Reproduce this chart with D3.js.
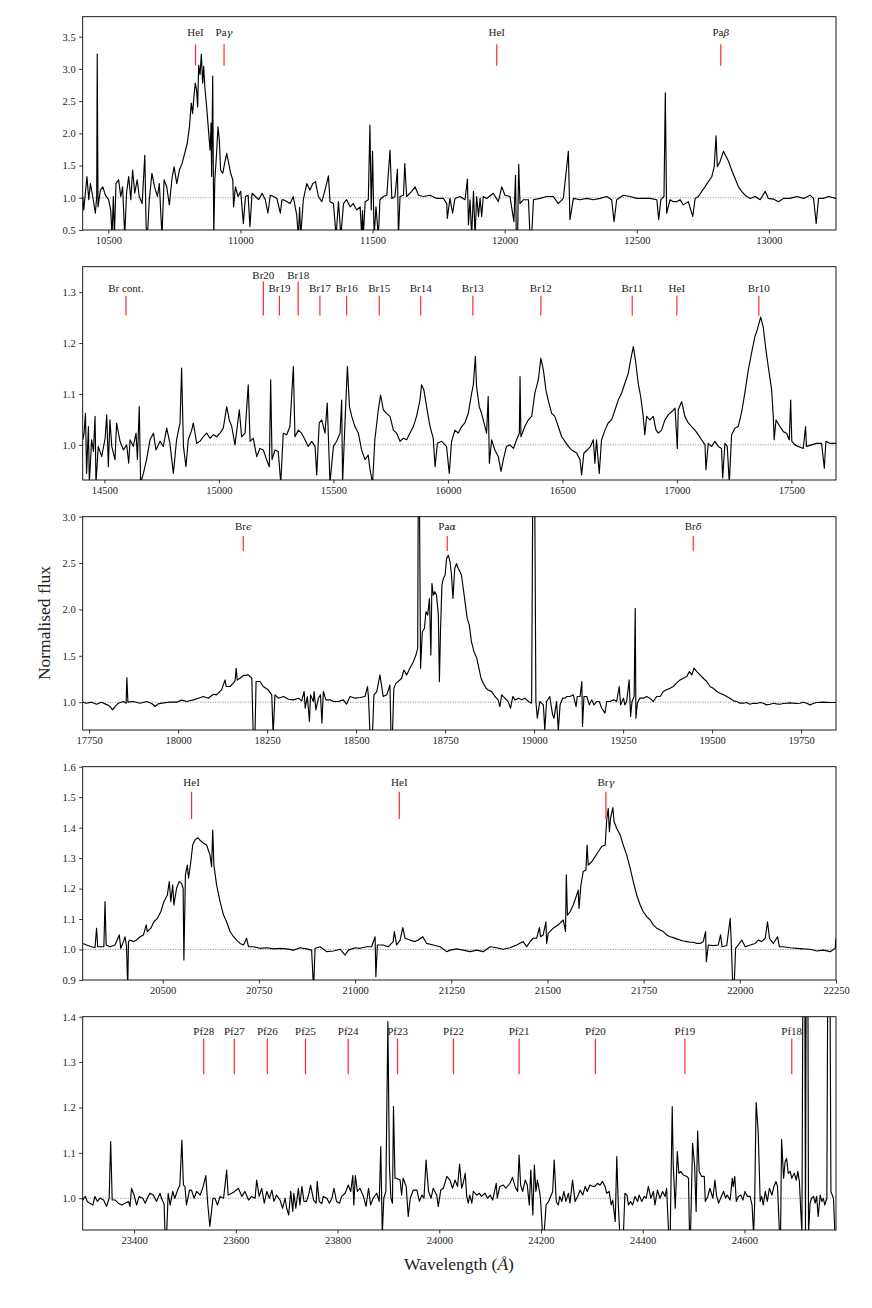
<!DOCTYPE html>
<html>
<head>
<meta charset="utf-8">
<script src="https://cdn.jsdelivr.net/npm/d3@7"></script>
<style>
  body { margin: 0; background: #fff; }
  text { font-family: "Liberation Serif", "DejaVu Serif", serif; }
</style>
</head>
<body>
<svg id="fig" width="872" height="1308"></svg>
<script>
// spectra, [wavelength (A), normalised flux]
var spec1 = [[10403,1.02],[10407,0.81],[10413,1.07],[10419,1.33],[10426,0.97],[10432,1.22],[10441,1.02],[10451,0.76],[10456,1.02],[10458,3.23],[10461,0.86],[10470,1.12],[10479,1.17],[10489,1.04],[10501,0.97],[10509,0.81],[10514,0.4],[10519,1.02],[10523,0.4],[10529,1.22],[10539,1.28],[10547,1.02],[10554,1.17],[10562,0.4],[10569,1.07],[10577,1.33],[10585,0.97],[10592,1.43],[10600,1.07],[10609,1.28],[10617,1.02],[10628,0.91],[10638,1.66],[10643,0.55],[10648,0.4],[10655,0.97],[10665,1.38],[10675,1.17],[10686,1.02],[10693,1.22],[10703,0.4],[10711,1.28],[10721,1.17],[10731,0.89],[10741,1.30],[10749,1.48],[10759,1.22],[10769,1.43],[10779,1.53],[10789,1.69],[10799,1.85],[10807,2.10],[10814,2.47],[10819,2.31],[10824,2.57],[10829,2.78],[10834,2.67],[10838,2.41],[10842,3.06],[10847,2.91],[10852,3.23],[10857,2.78],[10861,3.04],[10865,2.73],[10872,2.41],[10880,2.00],[10885,1.74],[10889,2.16],[10891,1.33],[10895,2.89],[10899,0.4],[10903,1.28],[10909,1.64],[10915,2.10],[10920,1.90],[10925,1.43],[10933,1.38],[10940,1.53],[10948,1.69],[10956,1.53],[10963,1.38],[10971,1.28],[10974,0.86],[10981,1.17],[10991,1.02],[11001,1.10],[11011,0.60],[11019,1.02],[11029,1.04],[11036,0.55],[11044,1.07],[11057,1.02],[11069,0.97],[11082,1.07],[11094,0.97],[11104,0.76],[11113,1.04],[11126,1.02],[11138,0.99],[11151,0.76],[11157,0.97],
  [11163,0.97],[11188,0.91],[11200,1.02],[11213,0.73],[11219,0.4],[11224,0.85],[11228,0.4],[11238,0.97],[11251,1.22],[11263,1.12],[11274,1.22],[11284,1.25],[11295,1.02],[11308,0.94],[11320,1.12],[11333,1.34],[11339,0.94],[11352,0.91],[11362,0.4],[11371,0.94],[11380,0.4],[11390,0.91],[11402,0.97],[11415,0.86],[11427,0.91],[11440,0.81],[11453,0.86],[11459,0.4],[11462,0.8],[11465,0.4],[11472,0.94],[11484,0.97],[11490,2.13],[11495,0.81],[11500,1.72],[11506,0.4],[11513,0.86],[11522,0.4],[11528,0.97],[11541,1.02],[11554,1.04],[11566,1.74],[11573,0.99],[11585,1.02],[11594,1.44],[11598,0.4],[11604,1.02],[11617,1.04],[11622,1.53],[11629,1.02],[11648,1.10],[11661,1.17],[11674,1.04],[11692,1.02],[11718,1.04],[11743,0.99],[11768,0.99],[11781,0.91],[11783,0.68],[11793,0.99],[11803,0.76],[11812,0.99],[11831,1.02],[11850,0.97],[11859,1.29],[11863,0.58],[11869,0.97],[11875,0.4],[11882,1.10],[11888,0.4],[11894,1.02],[11901,0.71],[11907,0.99],[11913,0.71],[11919,1.02],[11932,0.99],[11957,1.07],[11976,0.94],[11989,1.17],[12001,1.04],[12020,1.02],[12035,0.63],[12041,1.35],[12044,0.4],[12049,0.4],[12053,1.52],[12058,0.91],[12071,0.97],[12090,0.97],[12096,0.4],[12102,0.4],[12109,0.97],[12134,0.99],[12159,1.02],[12184,1.02],[12203,0.91],[12222,0.99],[12241,1.72],[12247,0.66],[12260,0.99],[12285,0.97],[12311,0.99],[12336,0.97],[12361,0.99],[12386,1.02],[12405,0.97],[12414,0.63],[12424,0.97],[12449,1.04],[12475,1.02],[12500,0.99],[12525,0.99],[12550,0.99],[12576,0.97],[12583,0.66],[12591,0.97],[12603,1.02],[12608,2.63],[12613,0.76],[12626,0.97],[12639,0.94],[12651,0.94],[12664,0.97],[12676,0.89],[12695,0.94],[12712,0.71],[12721,0.99],[12733,1.02],[12746,1.10],[12758,1.17],[12771,1.25],[12784,1.33],[12793,1.48],[12800,1.96],[12805,1.48],[12815,1.56],[12828,1.72],[12838,1.64],[12848,1.56],[12859,1.43],[12872,1.30],[12885,1.17],[12897,1.10],[12910,1.04],[12929,0.99],[12948,1.02],[12967,0.97],[12986,1.10],[12998,0.99],[13017,0.98],[13036,0.94],[13055,0.99],[13080,0.99],[13106,1.02],[13131,0.99],[13156,1.04],[13169,0.99],[13179,0.60],[13188,0.99],[13206,0.99],[13225,1.02],[13254,0.99]];

var spec2 = [[14405,1.010],[14411,1.023],[14417,1.062],[14422,0.944],[14430,1.036],[14434,0.925],[14444,1.010],[14452,0.987],[14459,1.056],[14463,0.925],[14473,0.997],[14488,0.977],[14503,1.013],[14510,1.059],[14517,0.957],[14524,1.049],[14532,0.997],[14546,0.971],[14553,1.043],[14568,1.007],[14583,0.990],[14597,1.000],[14606,0.964],[14612,1.010],[14626,0.997],[14638,1.023],[14644,0.971],[14652,1.075],[14658,0.925],[14670,0.944],[14684,0.971],[14699,1.010],[14714,1.023],[14725,0.990],[14743,1.007],[14757,0.997],[14772,1.033],[14786,1.003],[14801,0.944],[14815,1.010],[14830,1.043],[14837,1.151],[14845,0.997],[14856,0.957],[14866,1.010],[14881,1.029],[14888,1.043],[14903,1.003],[14917,1.007],[14932,1.016],[14946,1.023],[14961,1.013],[14976,1.020],[14990,1.016],[15005,1.023],[15019,1.033],[15034,1.075],[15045,1.049],[15056,1.036],[15070,1.000],[15080,1.036],[15089,1.069],[15099,1.016],[15114,1.023],[15128,1.118],[15136,1.007],[15150,1.013],[15165,0.977],[15179,0.993],[15194,0.990],[15208,0.971],[15220,0.957],[15226,1.128],[15232,0.971],[15245,0.990],[15259,0.987],[15270,0.925],[15281,1.023],[15296,1.020],[15310,1.036],[15325,1.154],[15332,1.016],[15347,1.029],[15361,1.023],[15376,1.010],[15390,0.997],[15405,1.007],[15420,0.997],[15427,0.941],[15438,1.043],[15449,1.049],[15463,1.023],[15473,1.082],[15485,0.925],[15500,0.997],[15514,1.007],[15529,1.023],[15536,1.088],[15540,0.925],[15551,1.049],[15561,1.154],[15570,1.075],[15580,1.056],[15594,1.036],[15609,1.023],[15623,0.990],[15638,0.971],[15652,0.980],[15660,0.951],[15671,0.925],[15681,1.010],[15696,1.069],[15706,1.098],[15718,1.069],[15732,1.062],[15747,1.056],[15762,1.029],[15776,1.023],[15791,1.007],[15805,1.013],[15820,1.010],[15834,1.023],[15849,1.036],[15863,1.056],[15878,1.088],[15885,1.118],[15895,1.108],[15907,1.075],[15922,1.036],[15936,1.013],[15944,0.957],[15954,1.003],[15973,1.007],[15994,0.997],[16006,0.944],
  [16016,1.007],[16031,1.029],[16045,1.023],[16060,1.036],[16074,1.043],[16089,1.062],[16104,1.102],[16111,1.118],[16120,1.174],[16125,1.115],[16137,1.075],[16147,1.062],[16162,1.036],[16169,1.023],[16176,1.095],[16181,0.964],[16191,1.010],[16205,0.990],[16220,0.977],[16232,0.948],[16242,0.971],[16256,0.997],[16271,1.000],[16286,0.993],[16300,1.010],[16312,1.023],[16315,1.134],[16319,1.016],[16336,1.036],[16351,1.049],[16366,1.056],[16380,1.102],[16395,1.128],[16406,1.170],[16417,1.147],[16428,1.108],[16438,1.088],[16453,1.062],[16467,1.056],[16482,1.036],[16497,1.016],[16511,1.007],[16526,0.997],[16540,0.990],[16562,0.984],[16577,0.971],[16584,0.941],[16594,0.984],[16609,0.990],[16623,0.997],[16635,1.010],[16642,0.964],[16649,1.010],[16661,0.944],[16671,1.010],[16686,1.029],[16700,1.043],[16715,1.049],[16730,1.069],[16744,1.088],[16759,1.102],[16773,1.121],[16788,1.141],[16798,1.167],[16810,1.193],[16821,1.160],[16831,1.121],[16842,1.095],[16853,1.056],[16860,1.020],[16868,1.056],[16882,1.049],[16897,1.056],[16909,1.029],[16919,1.023],[16933,1.029],[16948,1.049],[16962,1.059],[16977,1.065],[16992,1.072],[17002,0.993],[17006,1.069],[17021,1.085],[17035,1.056],[17050,1.043],[17064,1.036],[17079,1.029],[17093,1.020],[17108,1.010],[17123,1.000],[17127,0.951],[17137,1.003],[17152,0.997],[17166,1.007],[17181,0.997],[17195,0.993],[17200,0.935],[17210,1.003],[17220,0.997],[17229,0.925],[17239,1.020],[17254,1.033],[17268,1.036],[17283,1.065],[17297,1.102],[17312,1.147],[17326,1.180],[17341,1.213],[17351,1.226],[17366,1.251],[17377,1.232],[17389,1.187],[17399,1.154],[17414,1.108],[17421,1.056],[17425,1.010],[17433,1.049],[17450,1.036],[17465,1.026],[17479,1.023],[17491,1.010],[17497,1.088],[17502,1.007],[17516,1.000],[17530,0.997],[17552,0.993],[17562,1.036],[17566,0.997],[17588,1.000],[17610,1.003],[17632,1.003],[17644,0.954],[17651,1.007],[17668,1.003],[17695,1.003]];

var spec3 = [[17732,1.000],[17743,0.989],[17757,1.000],[17771,0.978],[17785,1.000],[17801,0.971],[17809,0.953],[17816,0.917],[17823,0.953],[17832,0.989],[17846,1.007],[17854,0.989],[17856,1.266],[17859,1.000],[17874,1.007],[17893,0.989],[17912,1.007],[17926,0.986],[17935,0.953],[17944,0.982],[17959,0.993],[17977,1.000],[17996,1.000],[18010,1.022],[18024,1.007],[18043,1.025],[18057,1.043],[18071,1.061],[18085,1.043],[18099,1.086],[18108,1.079],[18122,1.133],[18132,1.240],[18135,1.169],[18146,1.169],[18155,1.205],[18160,1.230],[18163,1.366],[18166,1.240],[18174,1.258],[18183,1.287],[18197,1.294],[18207,1.258],[18211,0.65],[18216,0.65],[18219,1.223],[18230,1.223],[18239,1.169],[18253,1.133],[18263,1.079],[18267,0.65],[18272,1.079],[18282,1.043],[18296,1.061],[18310,1.032],[18324,1.025],[18338,1.043],[18347,1.014],[18354,1.115],[18357,0.935],[18363,1.061],[18369,0.792],[18372,1.079],[18380,1.007],[18382,1.115],[18387,0.917],[18394,1.043],[18400,1.079],[18404,0.774],[18408,1.115],[18415,1.025],[18427,1.025],[18436,1.007],[18450,1.007],[18464,1.025],[18473,0.978],[18483,1.061],[18497,1.043],[18511,1.050],[18525,1.061],[18532,1.169],[18535,1.043],[18539,0.65],[18546,0.65],[18550,1.079],[18558,1.115],
  [18567,1.294],[18576,1.061],[18586,1.079],[18595,1.186],[18598,0.65],[18602,0.65],[18606,1.150],[18612,1.204],[18618,1.222],[18628,1.258],[18634,1.347],[18642,1.294],[18651,1.365],[18661,1.437],[18668,1.509],[18673,1.580],[18675,3.8],[18677,3.8],[18681,1.365],[18686,1.760],[18692,1.795],[18696,1.975],[18701,1.939],[18706,2.118],[18710,1.509],[18713,2.279],[18717,2.154],[18721,2.190],[18726,2.154],[18731,1.939],[18734,1.222],[18737,1.760],[18741,2.261],[18745,2.333],[18750,2.369],[18754,2.548],[18759,2.584],[18764,2.512],[18768,2.369],[18772,2.118],[18777,2.441],[18782,2.494],[18787,2.441],[18792,2.405],[18796,2.369],[18801,2.226],[18806,2.082],[18812,1.903],[18818,1.831],[18824,1.652],[18831,1.545],[18839,1.473],[18845,1.365],[18851,1.258],[18857,1.204],[18865,1.150],[18871,1.132],[18881,1.114],[18890,1.061],[18899,1.025],[18904,0.953],[18909,1.079],[18918,1.043],[18927,1.007],[18934,0.935],[18940,1.061],[18946,1.025],[18956,1.043],[18965,1.025],[18974,1.043],[18984,1.007],[18993,0.989],[18997,3.8],[19001,3.8],[19005,1.007],[19009,0.828],[19016,1.007],[19026,0.971],[19030,0.70],[19035,1.007],[19044,1.061],[19052,0.864],[19056,0.828],[19063,1.007],[19068,0.70],[19073,0.971],
  [19080,1.043],[19087,1.043],[19092,1.061],[19101,1.061],[19110,1.079],[19118,0.953],[19121,1.061],[19129,1.061],[19134,1.223],[19136,0.738],[19140,1.061],[19148,1.061],[19155,0.971],[19162,1.025],[19168,0.971],[19176,1.007],[19183,1.007],[19190,0.935],[19199,0.882],[19204,1.007],[19213,1.007],[19223,1.025],[19232,1.007],[19239,1.169],[19243,0.971],[19251,1.043],[19255,0.971],[19260,1.007],[19267,1.240],[19271,0.846],[19275,1.007],[19281,1.061],[19284,2.012],[19286,0.828],[19290,0.989],[19297,1.043],[19307,1.043],[19316,1.061],[19325,1.043],[19335,1.007],[19344,1.061],[19354,1.061],[19363,1.115],[19372,1.133],[19382,1.151],[19391,1.169],[19400,1.205],[19410,1.240],[19419,1.258],[19429,1.276],[19436,1.330],[19443,1.294],[19449,1.366],[19457,1.330],[19466,1.294],[19475,1.258],[19485,1.223],[19494,1.169],[19503,1.151],[19513,1.115],[19522,1.097],[19532,1.079],[19541,1.061],[19550,1.043],[19560,1.014],[19569,1.007],[19578,0.989],[19588,0.989],[19597,0.996],[19606,0.978],[19616,0.989],[19625,0.986],[19635,0.996],[19644,0.989],[19653,0.971],[19663,0.978],[19672,0.989],[19681,0.982],[19691,0.978],[19700,0.986],[19709,0.989],[19719,0.993],[19728,0.989],[19738,0.986],[19747,0.989],[19756,1.000],[19766,0.989],[19775,0.971],[19784,0.986],[19794,0.996],[19812,1.000],[19831,0.996],[19848,0.996]];

var spec4 = [[20292,1.020],[20302,1.015],[20315,1.009],[20324,1.006],[20328,1.070],[20331,1.009],[20341,1.009],[20347,1.009],[20350,1.157],[20353,1.015],[20363,1.009],[20376,1.015],[20387,1.048],[20391,1.004],[20398,1.026],[20402,1.042],[20406,1.009],[20409,0.87],[20411,1.026],[20415,1.031],[20424,1.026],[20432,1.031],[20441,1.042],[20450,1.048],[20457,1.081],[20460,1.059],[20469,1.070],[20477,1.091],[20486,1.102],[20495,1.124],[20503,1.157],[20512,1.179],[20517,1.223],[20521,1.157],[20526,1.212],[20529,1.146],[20536,1.201],[20543,1.223],[20549,1.217],[20553,1.201],[20555,0.966],[20559,1.245],[20564,1.277],[20567,1.234],[20573,1.288],[20578,1.343],[20584,1.360],[20591,1.367],[20599,1.356],[20606,1.349],[20614,1.343],[20623,1.310],[20627,1.272],[20630,1.392],[20633,1.277],[20640,1.212],[20649,1.157],[20658,1.113],[20666,1.091],[20675,1.059],[20684,1.042],[20692,1.031],[20701,1.020],[20710,1.015],[20718,1.037],[20723,1.009],[20736,1.009],[20753,1.004],[20770,1.006],[20788,1.002],[20805,1.004],[20822,1.002],[20840,0.998],[20857,1.006],[20874,1.002],[20887,0.998],[20892,0.87],[20896,1.004],[20909,1.009],[20926,0.993],[20944,0.995],[20961,1.001],[20974,0.982],[20983,0.998],[21000,1.006],[21013,1.004],[21030,1.009],[21043,1.009],[21052,1.042],[21054,0.911],[21058,1.015],[21073,1.015],[21086,1.009],[21099,1.026],[21102,1.059],[21108,1.015],[21117,1.031],[21124,1.072],[21130,1.037],[21143,1.031],[21156,1.026],[21164,1.031],[21176,1.042],[21186,1.020],[21203,1.015],[21221,1.009],[21238,0.993],
  [21247,0.998],[21264,1.002],[21281,0.998],[21299,0.993],[21316,0.998],[21333,0.993],[21351,1.009],[21368,1.006],[21385,1.001],[21403,1.006],[21420,1.015],[21437,1.026],[21446,1.009],[21455,1.026],[21463,1.037],[21472,1.037],[21479,1.072],[21482,1.042],[21489,1.048],[21496,1.091],[21498,1.020],[21502,1.053],[21515,1.070],[21528,1.081],[21541,1.097],[21547,1.059],[21549,1.245],[21552,1.113],[21559,1.124],[21567,1.146],[21576,1.179],[21580,1.195],[21582,1.135],[21587,1.212],[21593,1.256],[21600,1.261],[21603,1.343],[21606,1.277],[21615,1.288],[21624,1.305],[21632,1.321],[21641,1.338],[21650,1.343],[21654,1.425],[21658,1.463],[21661,1.387],[21664,1.431],[21670,1.466],[21673,1.420],[21680,1.398],[21689,1.376],[21697,1.343],[21706,1.310],[21715,1.267],[21723,1.223],[21732,1.179],[21741,1.146],[21749,1.124],[21758,1.108],[21767,1.097],[21775,1.081],[21784,1.070],[21793,1.064],[21801,1.059],[21810,1.048],[21819,1.042],[21827,1.039],[21836,1.035],[21845,1.031],[21853,1.028],[21862,1.026],[21871,1.024],[21879,1.024],[21888,1.020],[21897,1.020],[21905,1.026],[21911,1.059],[21913,0.960],[21918,1.015],[21931,1.013],[21944,1.015],[21950,1.048],[21954,1.009],[21966,1.013],[21975,1.102],[21978,1.015],[21982,0.87],[21985,0.87],[21989,1.004],[21996,1.015],[22005,1.031],[22014,1.009],[22027,1.015],[22040,1.020],[22048,1.031],[22057,1.026],[22066,1.037],[22072,1.091],[22077,1.037],[22087,1.020],[22098,1.042],[22103,1.009],[22113,1.009],[22131,1.006],[22148,1.004],[22165,1.002],[22183,1.001],[22200,0.995],[22217,0.998],[22235,0.993],[22248,1.004],[22250,1.037]];

var spec5 = [[23299,0.996],[23304,1.004],[23308,0.993],[23313,0.989],[23319,0.985],[23323,1.004],[23328,0.993],[23333,1.000],[23340,0.996],[23346,0.982],[23351,1.000],[23354,1.125],[23357,0.996],[23363,0.996],[23369,0.989],[23376,0.985],[23382,0.989],[23389,0.993],[23392,0.982],[23395,1.022],[23400,1.007],[23405,0.985],[23410,1.004],[23417,1.000],[23422,0.989],[23426,1.000],[23431,1.011],[23438,1.007],[23444,0.993],[23451,1.011],[23454,1.000],[23459,0.987],[23461,0.92],[23464,0.92],[23467,1.011],[23471,0.985],[23476,1.015],[23480,1.000],[23487,1.022],[23490,1.029],[23494,1.128],[23497,1.029],[23500,1.026],[23503,0.985],[23509,1.018],[23513,1.018],[23518,1.000],[23523,1.015],[23530,1.007],[23536,1.026],[23541,1.050],[23545,0.985],[23549,0.938],[23555,1.000],[23559,1.000],[23564,0.985],[23569,1.004],[23576,1.000],[23582,1.062],[23585,1.007],[23592,1.011],[23598,1.015],[23605,1.022],[23612,1.004],[23618,1.015],[23625,0.996],[23631,1.004],[23638,1.000],[23641,1.040],[23646,1.004],[23651,1.022],[23656,0.989],[23661,1.015],[23666,1.000],[23671,1.018],[23675,0.993],[23680,1.007],[23687,0.996],[23692,0.978],[23697,1.000],[23700,0.978],[23704,0.963],[23708,1.015],[23712,0.971],[23714,1.011],[23718,0.978],[23723,1.022],[23726,0.985],[23730,1.026],[23734,0.993],[23739,0.993],[23743,1.007],[23747,1.029],[23753,0.996],[23758,0.989],[23760,1.037],[23764,0.993],[23769,0.988],[23772,1.004],[23779,1.000],[23784,0.989],[23789,1.000],[23793,1.022],[23798,0.993],[23804,0.989],[23808,1.004],[23815,1.011],[23821,1.029],[23826,1.015],[23830,1.050],[23832,0.985],[23835,1.050],[23839,1.015],[23844,1.022],[23851,1.004],[23856,0.982],[23861,1.022],[23865,0.985],[23870,1.000],[23877,1.011],[23882,0.993],[23885,1.114],[23888,0.92],[23891,1.000],[23895,1.015],[23899,1.389],[23902,1.073],[23905,1.000],[23908,0.989],[23910,1.202],[23913,1.044],[23916,1.044],[23923,1.040],[23926,1.007],[23929,1.044],[23935,1.026],[23939,0.960],[23943,1.000],[23949,1.018],[23956,1.018],[23961,0.993],[23966,1.007],[23970,1.000],[23974,1.084],[23979,1.015],[23984,1.000],[23988,1.022],[23995,1.007],[23998,0.982],[24003,1.018],[24008,1.022],[24015,1.048],
  [24021,1.040],[24026,1.022],[24031,1.040],[24036,1.026],[24040,1.075],[24044,1.022],[24047,1.033],[24051,1.055],[24054,1.004],[24057,0.989],[24060,1.007],[24064,0.989],[24067,1.015],[24074,1.007],[24079,1.011],[24083,1.004],[24090,1.011],[24095,1.000],[24100,1.007],[24105,0.996],[24112,1.033],[24114,1.000],[24119,1.026],[24126,1.029],[24131,1.022],[24139,1.033],[24144,1.046],[24149,1.026],[24154,1.015],[24157,1.095],[24160,1.029],[24164,1.015],[24169,1.040],[24173,1.029],[24177,0.985],[24180,1.062],[24184,0.963],[24187,1.073],[24190,1.015],[24193,1.040],[24197,1.015],[24199,1.000],[24203,0.92],[24206,0.92],[24210,0.985],[24215,0.993],[24219,1.004],[24223,1.015],[24226,1.084],[24230,0.993],[24234,0.985],[24237,1.004],[24241,0.993],[24245,1.015],[24249,0.993],[24254,1.011],[24257,0.989],[24262,1.040],[24267,0.993],[24272,1.004],[24277,1.018],[24282,1.007],[24287,1.026],[24291,1.015],[24296,1.029],[24302,1.026],[24306,1.026],[24311,1.033],[24316,1.029],[24321,1.037],[24326,1.026],[24329,1.011],[24334,1.015],[24338,0.985],[24341,0.996],[24346,0.949],[24349,1.092],[24352,0.985],[24355,0.92],[24362,0.92],[24365,1.011],[24369,1.007],[24372,0.985],[24376,0.993],[24380,0.985],[24385,1.004],[24390,0.993],[24393,1.007],[24398,0.993],[24403,1.004],[24407,1.000],[24411,1.026],[24416,1.000],[24421,1.015],[24424,0.985],[24429,1.018],[24434,1.000],[24439,1.015],[24444,1.004],[24447,1.022],[24451,0.92],[24454,0.92],[24458,1.202],[24460,1.073],[24464,0.978],[24468,1.103],[24471,1.055],[24475,1.059],[24480,1.051],[24487,1.048],[24490,1.044],[24492,0.92],[24494,0.92],[24498,1.121],[24502,1.073],[24505,0.971],[24508,1.148],[24511,1.059],[24516,1.048],[24521,1.048],[24523,0.993],[24528,1.004],[24532,1.022],[24538,1.000],[24542,1.040],[24545,1.007],[24549,0.989],[24553,1.000],[24559,1.015],[24563,1.000],[24566,1.007],[24572,0.996],[24576,1.044],[24578,1.026],[24581,1.048],[24584,0.993],[24588,1.004],[24593,1.007],[24597,0.996],[24601,1.015],[24606,1.004],[24611,1.004],[24615,0.985],[24618,0.92],[24620,0.985],[24623,1.211],[24627,1.147],[24631,0.993],[24634,1.004],[24637,0.985],[24641,1.015],[24645,0.993],[24649,1.022],[24654,1.007],[24658,1.026],[24662,1.037],[24665,1.026],[24669,0.92],[24671,0.92],[24673,1.130],[24677,1.044],[24680,1.081],[24683,1.088],[24686,1.055],[24690,1.059],[24693,1.044],[24698,1.055],[24702,1.040],[24705,1.059],[24708,1.037],[24713,0.92],[24716,1.8],[24718,1.8],[24720,0.92],[24722,1.8],[24724,1.8],[24726,0.92],[24729,0.989],[24732,1.000],[24736,1.004],[24739,0.989],[24742,1.004],[24745,0.960],[24749,1.007],[24752,0.993],[24755,1.000],[24758,0.985],[24762,1.000],[24765,1.8],[24767,1.8],[24770,1.015],[24775,1.000],[24778,0.92],[24780,0.92]];

// line identifications
var lineNames1 = ["HeI", "Pa\u03b3", "HeI", "Pa\u03b2"];
var lineWaves1 = [10830, 10938, 11970, 12818];
var lineNames2 = ["Br cont.", "Br20", "Br19", "Br18", "Br17", "Br16", "Br15", "Br14", "Br13", "Br12", "Br11", "HeI", "Br10"];
var lineWaves2 = [14594, 15194, 15264, 15346, 15441, 15558, 15700, 15881, 16109, 16406, 16805, 17000, 17358];
var lineNames3 = ["Br\u03f5", "Pa\u03b1", "Br\u03b4"];
var lineWaves3 = [18183, 18756, 19447];
var lineNames4 = ["HeI", "HeI", "Br\u03b3"];
var lineWaves4 = [20575, 21115, 21652];
var lineNames5 = ["Pf28", "Pf27", "Pf26", "Pf25", "Pf24", "Pf23", "Pf22", "Pf21", "Pf20", "Pf19", "Pf18"];
var lineWaves5 = [23537, 23597, 23662, 23737, 23821, 23918, 24028, 24157, 24307, 24483, 24693];

// ticks
var xTicks1 = [10500, 11000, 11500, 12000, 12500, 13000];
var yTicks1 = [0.5, 1.0, 1.5, 2.0, 2.5, 3.0, 3.5];
var xTicks2 = [14500, 15000, 15500, 16000, 16500, 17000, 17500];
var yTicks2 = [1.0, 1.1, 1.2, 1.3];
var xTicks3 = [17750, 18000, 18250, 18500, 18750, 19000, 19250, 19500, 19750];
var yTicks3 = [1.0, 1.5, 2.0, 2.5, 3.0];
var xTicks4 = [20500, 20750, 21000, 21250, 21500, 21750, 22000, 22250];
var yTicks4 = [0.9, 1.0, 1.1, 1.2, 1.3, 1.4, 1.5, 1.6];
var xTicks5 = [23400, 23600, 23800, 24000, 24200, 24400, 24600];
var yTicks5 = [1.0, 1.1, 1.2, 1.3, 1.4];

var left = 82.7, right = 836, panelH = 213.3;
var tops = [16.7, 266.7, 516.7, 766.7, 1016.7];

// marker: [line bottom, line top, label centre] in flux units
var panels = [
  {spec: spec1, names: lineNames1, waves: lineWaves1, xDom: [10403, 13254], yDom: [0.5, 3.81], xt: xTicks1, yt: yTicks1, mark: [3.05, 3.382, 3.562]},
  {spec: spec2, names: lineNames2, waves: lineWaves2, xDom: [14405, 17695], yDom: [0.931, 1.35], xt: xTicks2, yt: yTicks2, mark: [1.254, 1.293, 1.308],
   tall: {"Br20": [1.321, 1.334], "Br18": [1.321, 1.334]}},
  {spec: spec3, names: lineNames3, waves: lineWaves3, xDom: [17732, 19848], yDom: [0.7, 3.0], xt: xTicks3, yt: yTicks3, mark: [2.63, 2.791, 2.899]},
  {spec: spec4, names: lineNames4, waves: lineWaves4, xDom: [20292, 22250], yDom: [0.9, 1.6], xt: xTicks4, yt: yTicks4, mark: [1.428, 1.518, 1.549]},
  {spec: spec5, names: lineNames5, waves: lineWaves5, xDom: [23299, 24780], yDom: [0.93, 1.4], xt: xTicks5, yt: yTicks5, mark: [1.273, 1.352, 1.368]}
];

var svg = d3.select("#fig");

panels.forEach(function(p, i) {
  var top = tops[i];
  var x = d3.scaleLinear().domain(p.xDom).range([left, right]);
  var y = d3.scaleLinear().domain(p.yDom).range([top + panelH, top]);
  var g = svg.append("g");

  g.append("clipPath").attr("id", "clip" + i)
    .append("rect").attr("x", left).attr("y", top).attr("width", right - left).attr("height", panelH);

  // continuum level
  g.append("line")
    .attr("x1", left).attr("x2", right).attr("y1", y(1)).attr("y2", y(1))
    .attr("stroke", "#555").attr("stroke-width", 0.7).attr("stroke-dasharray", "1,1.5");

  var line = d3.line().x(function(d) { return x(d[0]); }).y(function(d) { return y(d[1]); });
  g.append("path").datum(p.spec)
    .attr("clip-path", "url(#clip" + i + ")")
    .attr("fill", "none").attr("stroke", "#000").attr("stroke-width", 1.15)
    .attr("stroke-linejoin", "round")
    .attr("d", line);

  // red markers and labels
  p.waves.forEach(function(w, j) {
    var name = p.names[j];
    var lo = p.mark[0], hi = p.mark[1], ty = p.mark[2];
    if (p.tall && p.tall[name]) { hi = p.tall[name][0]; ty = p.tall[name][1]; }
    g.append("line")
      .attr("x1", x(w)).attr("x2", x(w)).attr("y1", y(lo)).attr("y2", y(hi))
      .attr("stroke", "#ff2a2a").attr("stroke-width", 1.2);
    var t = g.append("text")
      .attr("x", x(w)).attr("y", y(ty) + 3.8)
      .attr("text-anchor", "middle").attr("font-size", 11).attr("fill", "#222");
    var m = name.match(/^(.*?)([\u0391-\u03ff])$/);
    if (m) {
      t.append("tspan").text(m[1]);
      t.append("tspan").attr("font-style", "italic").attr("font-family", "DejaVu Serif").attr("font-size", 10).text(m[2]);
    } else {
      t.text(name);
    }
  });

  var ax = g.append("g").attr("transform", "translate(0," + (top + panelH) + ")")
    .call(d3.axisBottom(x).tickValues(p.xt).tickSize(3.5).tickPadding(3.5).tickFormat(d3.format("d")));
  var ay = g.append("g").attr("transform", "translate(" + left + ",0)")
    .call(d3.axisLeft(y).tickValues(p.yt).tickSize(3.5).tickPadding(3.5).tickFormat(d3.format(".1f")));
  [ax, ay].forEach(function(a) {
    a.select(".domain").remove();
    a.selectAll(".tick line").attr("stroke", "#000").attr("stroke-width", 0.8);
    a.selectAll(".tick text").attr("font-size", 10.5).attr("fill", "#222")
      .attr("font-family", "Liberation Serif, DejaVu Serif, serif");
  });

  g.append("rect")
    .attr("x", left).attr("y", top).attr("width", right - left).attr("height", panelH)
    .attr("fill", "none").attr("stroke", "#000").attr("stroke-width", 0.9);
});

svg.append("text")
  .attr("transform", "translate(50,623) rotate(-90)")
  .attr("text-anchor", "middle").attr("font-size", 17.5).attr("fill", "#222")
  .text("Normalised flux");

var xl = svg.append("text")
  .attr("x", 459).attr("y", 1270)
  .attr("text-anchor", "middle").attr("font-size", 17.5).attr("fill", "#222");
xl.append("tspan").text("Wavelength (");
xl.append("tspan").attr("font-style", "italic").text("\u00c5");
xl.append("tspan").text(")");
</script>
</body>
</html>
